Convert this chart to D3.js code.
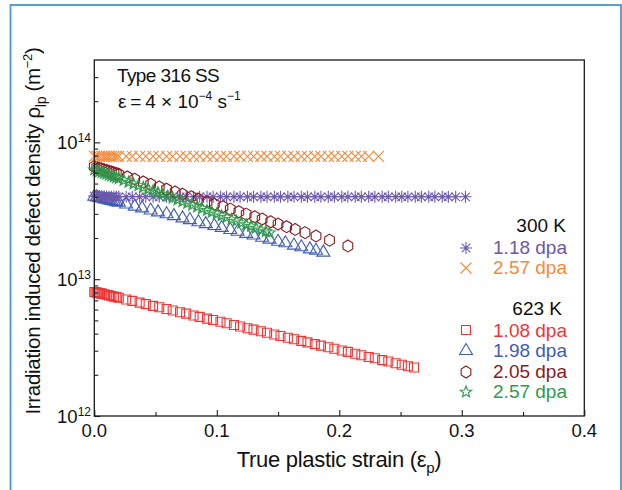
<!DOCTYPE html>
<html><head><meta charset="utf-8">
<script src="https://cdn.jsdelivr.net/npm/d3@7"></script>
<style>
html,body{margin:0;padding:0;background:#fff;}
svg{display:block;font-family:"Liberation Sans",Arial,Helvetica,sans-serif;}
</style></head><body>
<svg id="chart" width="622" height="490"></svg>
<script>
// ---------------- data ----------------
const xTickValues = [0, 0.1, 0.2, 0.3, 0.4];
const xTickLabels = ["0.0", "0.1", "0.2", "0.3", "0.4"];
const xMinorTicks = [0.05, 0.15, 0.25, 0.35];
const yTickValues = [1e12, 1e13, 1e14];
const yTickExponents = ["12", "13", "14"];
const yMinorTicks = [2e12,3e12,4e12,5e12,6e12,7e12,8e12,9e12,2e13,3e13,4e13,5e13,6e13,7e13,8e13,9e13,2e14,3e14];

const UNIT = 1e12; // densities below are in 10^12 m^-2

// 300 K, 1.18 dpa (asterisk)
const strain_300K_118 = [0,0.002,0.004,0.006,0.008,0.010,0.012,0.014,0.016,0.018,0.020,
  0.026,0.031,0.037,0.042,0.048,0.053,0.059,0.064,0.070,0.075,0.081,0.086,0.092,0.097,0.103,0.108,
  0.114,0.119,0.125,0.130,0.136,0.141,0.147,0.152,0.158,0.163,0.169,0.174,0.180,0.185,0.191,0.196,
  0.202,0.207,0.213,0.218,0.224,0.229,0.235,0.240,0.246,0.251,0.256,0.262,0.267,0.273,0.278,0.284,
  0.289,0.295,0.303];
const rho_300K_118 = [40.5,40.4,40.3,40.3,40.2,40.2,40.1,40.1,40.1,40.0,40.0,
  40.0,40.0,40.0,40.0,40.0,40.0,40.0,40.0,40.0,40.0,40.0,40.0,40.0,40.0,40.0,40.0,
  40.0,40.0,40.0,40.0,40.0,40.0,40.0,40.0,40.0,40.0,40.0,40.0,40.0,40.0,40.0,40.0,
  40.0,40.0,40.0,40.0,40.0,40.0,40.0,40.0,40.0,40.0,40.0,40.0,40.0,40.0,40.0,40.0,
  40.0,40.0,40.0];

// 300 K, 2.57 dpa (cross)
const strain_300K_257 = [0,0.002,0.004,0.006,0.008,0.010,0.012,0.014,0.016,0.018,0.020,
  0.026,0.031,0.037,0.042,0.048,0.053,0.059,0.064,0.070,0.075,0.081,0.086,0.092,0.097,0.103,0.108,
  0.114,0.119,0.125,0.130,0.136,0.141,0.147,0.152,0.158,0.163,0.169,0.174,0.180,0.185,0.191,0.196,
  0.202,0.207,0.213,0.218,0.224,0.232];
const rho_300K_257 = [79,79,79,79,79,79,79,79,79,79,79,
  79,79,79,79,79,79,79,79,79,79,79,79,79,79,79,79,
  79,79,79,79,79,79,79,79,79,79,79,79,79,79,79,79,
  79,79,79,79,79,79];

// 623 K, 1.08 dpa (square)
const strain_623K_108 = [0,0.001,0.002,0.003,0.004,0.005,0.006,0.008,0.010,0.012,0.014,0.016,0.018,0.020,
  0.026,0.031,0.037,0.042,0.048,0.053,0.059,0.064,0.070,0.075,0.081,0.086,0.092,0.097,0.103,0.108,
  0.114,0.119,0.125,0.130,0.136,0.141,0.147,0.152,0.158,0.163,0.169,0.174,0.180,0.185,0.191,0.196,
  0.202,0.207,0.213,0.218,0.224,0.229,0.235,0.240,0.246,0.251,0.256,0.261];
const rho_623K_108 = [8.07,8.03,7.99,7.95,7.92,7.88,7.84,7.76,7.69,7.61,7.54,7.46,7.39,7.32,
  7.11,6.94,6.74,6.57,6.38,6.23,6.05,5.90,5.73,5.60,5.43,5.30,5.15,5.03,4.88,4.76,
  4.63,4.51,4.38,4.28,4.16,4.06,3.94,3.84,3.73,3.64,3.54,3.45,3.35,3.27,3.18,3.10,
  3.01,2.94,2.85,2.78,2.70,2.64,2.56,2.50,2.43,2.37,2.31,2.26];

// 623 K, 1.98 dpa (triangle)
const strain_623K_198 = [0,0.002,0.004,0.006,0.008,0.010,0.012,0.014,0.016,0.018,0.020,
  0.026,0.033,0.039,0.046,0.052,0.059,0.065,0.072,0.078,0.085,0.091,0.098,0.104,0.111,0.117,0.124,
  0.130,0.137,0.143,0.150,0.156,0.163,0.169,0.176,0.181,0.187];
const rho_623K_198 = [40.7,40.3,39.9,39.5,39.1,38.7,38.3,38.0,37.6,37.2,36.8,
  35.7,34.5,33.5,32.3,31.3,30.3,29.4,28.3,27.5,26.5,25.7,24.9,24.1,23.3,22.6,21.8,
  21.2,20.4,19.8,19.1,18.6,17.9,17.4,16.8,16.4,15.9];

// 623 K, 2.05 dpa (hexagon)
const strain_623K_205 = [0,0.002,0.004,0.006,0.008,0.010,0.012,0.014,0.016,0.018,0.020,
  0.027,0.033,0.040,0.046,0.053,0.059,0.066,0.072,0.079,0.085,0.092,0.098,0.105,0.111,0.118,0.124,
  0.131,0.137,0.144,0.150,0.157,0.164,0.172,0.181,0.192,0.207];
const rho_623K_205 = [66.5,65.7,64.8,64.0,63.2,62.4,61.6,60.8,60.0,59.2,58.5,
  55.9,53.8,51.4,49.4,47.2,45.5,43.4,41.8,40.0,38.4,36.7,35.3,33.8,32.5,31.1,29.9,
  28.6,27.5,26.3,25.3,24.2,23.1,21.9,20.7,19.3,17.5];

// 623 K, 2.57 dpa (star)
const strain_623K_257 = [0,0.002,0.004,0.006,0.008,0.010,0.012,0.014,0.016,0.018,0.020,
  0.024,0.028,0.032,0.036,0.040,0.044,0.048,0.052,0.056,0.060,0.064,0.068,0.072,0.076,0.080,
  0.084,0.088,0.092,0.096,0.100,0.104,0.108,0.112,0.116,0.120,0.124,0.128,0.132,0.136,0.140,0.143];
const rho_623K_257 = [63.1,62.2,61.2,60.3,59.4,58.6,57.7,56.9,56.0,55.2,54.4,
  52.8,51.2,49.7,48.3,46.9,45.5,44.2,42.9,41.6,40.4,39.2,38.0,36.9,35.9,34.8,
  33.8,32.8,31.8,30.9,30.0,29.1,28.3,27.4,26.6,25.8,25.1,24.4,23.6,22.9,22.3,21.8];

const seriesNames = ["1.18 dpa","2.57 dpa","1.08 dpa","1.98 dpa","2.05 dpa","2.57 dpa"];
const seriesColors = ["#6b58ab","#f5893a","#ee3535","#3f5db5","#8a1b20","#2f9a4c"];

// ---------------- chart ----------------
const svg = d3.select("#chart");
const plot = {left: 94.3, right: 584.3, top: 60, bottom: 416};

const x = d3.scaleLinear().domain([0, 0.4]).range([plot.left, plot.right]);
const y = d3.scaleLog().domain([1e12, 4e14]).range([plot.bottom, plot.top]);

// outer blue frame
svg.append("rect")
  .attr("x", 10.5).attr("y", 5).attr("width", 610.5).attr("height", 520)
  .attr("fill", "none").attr("stroke", "#4b96cf").attr("stroke-width", 1.8);

function poly(n, rx, ry, start, inner) {
  const p = d3.path();
  const m = inner ? 2 * n : n;
  for (let i = 0; i < m; i++) {
    const a = (start + 360 / m * i) * Math.PI / 180;
    const k = inner && i % 2 ? inner : 1;
    const px = rx * k * Math.cos(a), py = ry * k * Math.sin(a);
    i ? p.lineTo(px, py) : p.moveTo(px, py);
  }
  p.closePath();
  return p.toString();
}
const shapes = {
  asterisk: "M0,-6V6M-6,0H6M-4.3,-4.3L4.3,4.3M-4.3,4.3L4.3,-4.3",
  cross: "M-5.5,-5.5L5.5,5.5M-5.5,5.5L5.5,-5.5",
  square: "M-4.5,-4.5H4.5V4.5H-4.5Z",
  triangle: "M0,-6.5L6.5,4.5H-6.5Z",
  hexagon: poly(6, 5.6, 6, -90, 0),
  star: poly(5, 6, 6, -90, 0.42)
};

const series = [
  {name: seriesNames[0], color: seriesColors[0], shape: "asterisk", xs: strain_300K_118, ys: rho_300K_118},
  {name: seriesNames[1], color: seriesColors[1], shape: "cross",    xs: strain_300K_257, ys: rho_300K_257},
  {name: seriesNames[2], color: seriesColors[2], shape: "square",   xs: strain_623K_108, ys: rho_623K_108},
  {name: seriesNames[3], color: seriesColors[3], shape: "triangle", xs: strain_623K_198, ys: rho_623K_198},
  {name: seriesNames[4], color: seriesColors[4], shape: "hexagon",  xs: strain_623K_205, ys: rho_623K_205},
  {name: seriesNames[5], color: seriesColors[5], shape: "star",     xs: strain_623K_257, ys: rho_623K_257}
];

const drawOrder = [2, 3, 0, 4, 5, 1];
const gData = svg.append("g");
drawOrder.forEach(i => {
  const s = series[i];
  const pts = s.xs.map((v, k) => ({x: v, y: s.ys[k] * UNIT}));
  gData.append("g").selectAll("path").data(pts).join("path")
    .attr("transform", d => `translate(${x(d.x)},${y(d.y)})`)
    .attr("d", shapes[s.shape])
    .attr("fill", "none").attr("stroke", s.color).attr("stroke-width", 1.1);
});

// axes (ticks inward)
const gx = svg.append("g").attr("transform", `translate(0,${plot.bottom})`);
gx.call(d3.axisBottom(x).tickValues(xTickValues).tickSize(-6).tickFormat(""));
gx.append("g").call(d3.axisBottom(x).tickValues(xMinorTicks).tickSize(-4).tickFormat(""));
const gy = svg.append("g").attr("transform", `translate(${plot.left},0)`);
gy.call(d3.axisLeft(y).tickValues(yTickValues).tickSize(-6).tickFormat(""));
gy.append("g").call(d3.axisLeft(y).tickValues(yMinorTicks).tickSize(-4).tickFormat(""));
svg.selectAll(".domain").remove();
svg.selectAll(".tick line").attr("stroke", "#222").attr("stroke-width", 1.1);

// frame
svg.append("rect")
  .attr("x", plot.left).attr("y", plot.top)
  .attr("width", plot.right - plot.left).attr("height", plot.bottom - plot.top)
  .attr("fill", "none").attr("stroke", "#1a1a1a").attr("stroke-width", 1.3);

// x tick labels
svg.append("g").selectAll("text").data(xTickValues).join("text")
  .attr("x", d => x(d)).attr("y", 437)
  .attr("text-anchor", "middle").attr("font-size", 18.5).attr("fill", "#111")
  .text((d, i) => xTickLabels[i]);

// y tick labels
yTickValues.forEach((v, i) => {
  const t = svg.append("text").attr("x", 91).attr("y", y(v) + 7)
    .attr("text-anchor", "end").attr("font-size", 18.5).attr("fill", "#111");
  t.append("tspan").text("10");
  t.append("tspan").attr("font-size", 12).attr("dy", -7).text(yTickExponents[i]);
});

// axis titles
const xt = svg.append("text").attr("x", 339).attr("y", 467)
  .attr("text-anchor", "middle").attr("font-size", 22).attr("fill", "#111").attr("letter-spacing", -0.3);
xt.append("tspan").text("True plastic strain (ε");
xt.append("tspan").attr("font-size", 15).attr("dy", 6).text("p");
xt.append("tspan").attr("dy", -6).text(")");

const yt = svg.append("text").attr("transform", "translate(40,231) rotate(-90)")
  .attr("text-anchor", "middle").attr("font-size", 20.5).attr("fill", "#111").attr("letter-spacing", -0.3);
yt.append("tspan").text("Irradiation induced defect density ρ");
yt.append("tspan").attr("font-size", 14).attr("dy", 6).text("lp");
yt.append("tspan").attr("dy", -6).text(" (m");
yt.append("tspan").attr("font-size", 13).attr("dy", -8).text("−2");
yt.append("tspan").attr("dy", 8).text(")");

// annotations
svg.append("text").attr("x", 117).attr("y", 82).attr("font-size", 19).attr("fill", "#111")
  .attr("letter-spacing", -0.6).text("Type 316 SS");
const ann = svg.append("text").attr("x", 118).attr("y", 108).attr("font-size", 19).attr("fill", "#111");
ann.append("tspan").text("ε\u2009=\u20094 × 10");
ann.append("tspan").attr("font-size", 12).attr("dy", -8).text("−4");
ann.append("tspan").attr("dy", 8).text(" s");
ann.append("tspan").attr("font-size", 12).attr("dy", -8).text("−1");

// legend
const legend = svg.append("g");
legend.append("text").attr("x", 566).attr("y", 232).attr("text-anchor", "end")
  .attr("font-size", 19).attr("fill", "#111").text("300 K");
legend.append("text").attr("x", 562).attr("y", 315).attr("text-anchor", "end")
  .attr("font-size", 19).attr("fill", "#111").text("623 K");
const legendRows = [
  {i: 0, sy: 248, ty: 254},
  {i: 1, sy: 268, ty: 274},
  {i: 2, sy: 330, ty: 337},
  {i: 3, sy: 350, ty: 357},
  {i: 4, sy: 372, ty: 378},
  {i: 5, sy: 392, ty: 398}
];
legendRows.forEach(r => {
  const s = series[r.i];
  legend.append("path").attr("transform", `translate(466,${r.sy})`).attr("d", shapes[s.shape])
    .attr("fill", "none").attr("stroke", s.color).attr("stroke-width", 1.1);
  legend.append("text").attr("x", 567).attr("y", r.ty).attr("text-anchor", "end")
    .attr("font-size", 19).attr("fill", s.color).text(s.name);
});
</script>
</body></html>
